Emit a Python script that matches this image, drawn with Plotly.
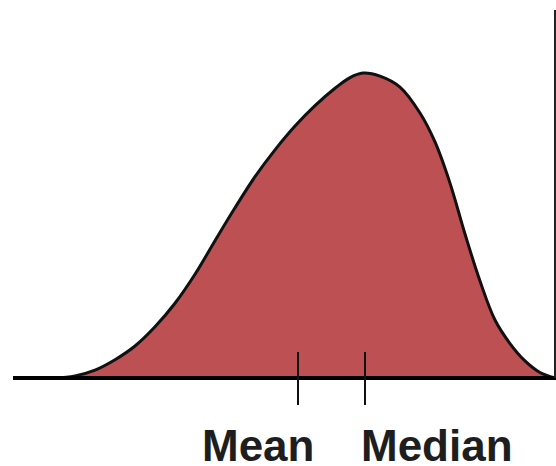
import plotly.graph_objects as go

# Distribution curve (x position, relative density; peak = 1)
x_vals = [13, 55, 75, 95, 115, 135, 155, 175, 195, 215, 235, 255, 275, 295, 315, 335, 350, 363,
          380, 400, 420, 435, 450, 465, 480, 495, 510, 525, 540, 555]
density = [0, 0, 0.007, 0.026, 0.060, 0.105, 0.168, 0.245, 0.340, 0.450, 0.558, 0.660, 0.748, 0.826, 0.893,
           0.950, 0.985, 1.0,
           0.990, 0.954, 0.869, 0.774, 0.639, 0.472, 0.318, 0.190, 0.113, 0.056, 0.018, 0]

stat_labels = ["Mean", "Median"]
stat_positions = [298, 365]
label_positions = [258, 437]

x_start, x_end = 13, 556
right_line_x = 555

PX = 305.0  # pixels per density unit
BASE = 378.0
H = 466.0


def v(ypix):
    return (BASE - ypix) / PX


fig = go.Figure()

fig.add_trace(go.Scatter(
    x=x_vals, y=density, mode="lines", fill="tozeroy",
    fillcolor="#BD5052", line=dict(color="#111111", width=3, shape="spline", smoothing=1.0),
    hoverinfo="skip", showlegend=False,
))

# baseline
fig.add_shape(type="line", x0=x_start, x1=x_end, y0=0, y1=0, line=dict(color="#000000", width=4))
# right vertical line
fig.add_shape(type="line", x0=right_line_x, x1=right_line_x, y0=0, y1=v(10), line=dict(color="#222222", width=2))
# ticks
for xp in stat_positions:
    fig.add_shape(type="line", x0=xp, x1=xp, y0=v(405), y1=v(352), line=dict(color="#111111", width=2))

for lab, xp in zip(stat_labels, label_positions):
    fig.add_annotation(x=xp, y=v(445), text="<b>%s</b>" % lab, showarrow=False,
                       font=dict(family="Liberation Sans, Arial, sans-serif", size=44, color="#1e1e1e"),
                       xanchor="center", yanchor="middle")

fig.update_layout(
    width=556, height=466,
    margin=dict(l=0, r=0, t=0, b=0, pad=0),
    paper_bgcolor="white", plot_bgcolor="white",
    xaxis=dict(range=[0, 556], visible=False, fixedrange=True),
    yaxis=dict(range=[v(H), v(0)], visible=False, fixedrange=True),
)

fig.write_html("out.html", config={"displayModeBar": False},
               post_script="document.body.style.margin='0';document.body.style.overflow='hidden';")
